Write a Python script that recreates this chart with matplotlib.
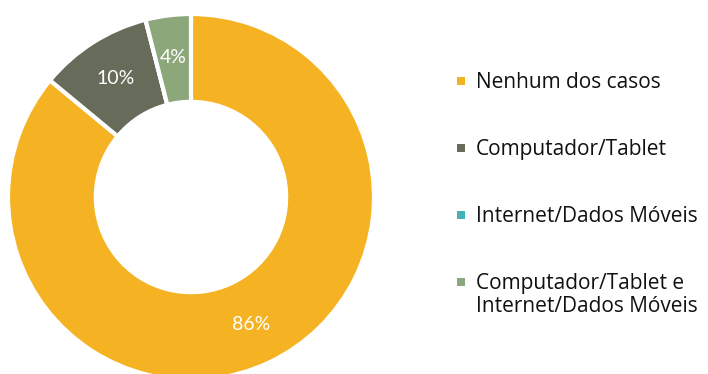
import matplotlib
matplotlib.use("Agg")
import matplotlib.pyplot as plt
from matplotlib.patches import Rectangle
import numpy as np

categories = ["Nenhum dos casos", "Computador/Tablet", "Internet/Dados Móveis",
              "Computador/Tablet e\nInternet/Dados Móveis"]
values = [86, 10, 0, 4]
labels = ["86%", "10%", "", "4%"]
colors = ["#F5B323", "#676B5A", "#45B1B5", "#8CA87B"]

W, H = 708, 374
fig = plt.figure(figsize=(W / 100, H / 100), dpi=100)
cx, cy, r = 191, 197, 183
ax = fig.add_axes([(cx - r) / W, (H - cy - r) / H, 2 * r / W, 2 * r / H])

wedges, texts = ax.pie(values, colors=colors, startangle=90, counterclock=False,
                       radius=1, wedgeprops=dict(width=0.48, edgecolor="white", linewidth=3))
for w, lab in zip(wedges, labels):
    ang = np.deg2rad((w.theta1 + w.theta2) / 2)
    if lab:
        ax.text(0.77 * np.cos(ang), 0.77 * np.sin(ang), lab, ha="center", va="center",
                color="white", fontsize=14, family="Lato")
ax.set_xlim(-1, 1)
ax.set_ylim(-1, 1)
ax.set_aspect("equal")
ax.axis("off")

# legend (drawn manually to match the layout)
for i, (cat, col) in enumerate(zip(categories, colors)):
    base = 88 + 67 * i  # baseline of first line, in pixels from top
    fig.patches.append(Rectangle(((457) / W, (H - base + 3) / H), 8 / W, 8 / H,
                                 transform=fig.transFigure, facecolor=col, edgecolor="none"))
    for j, line in enumerate(cat.split("\n")):
        fig.text(476 / W, (H - base - 23 * j) / H, line, ha="left", va="baseline",
                 fontsize=15, family="Open Sans", color="#111111")
fig.savefig("out.png", dpi=100)
